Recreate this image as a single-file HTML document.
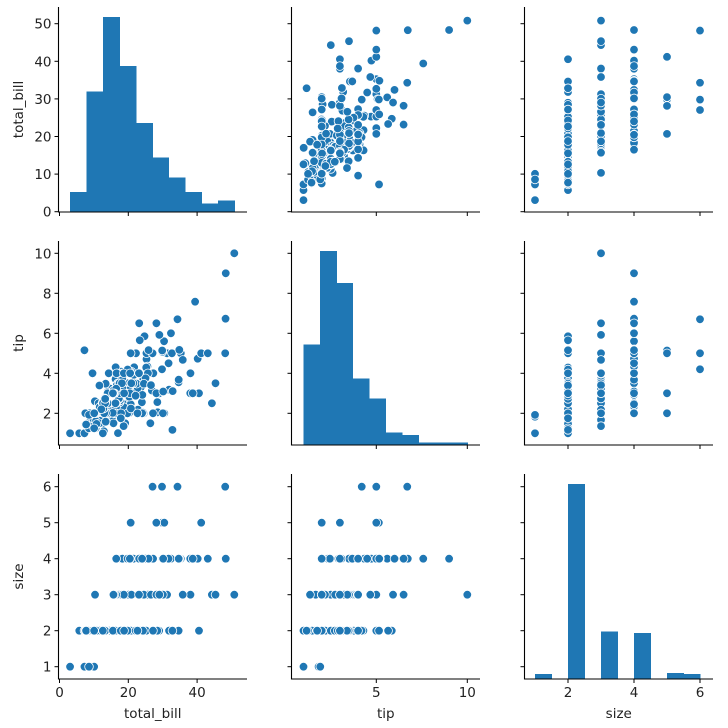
<!DOCTYPE html>
<html><head><meta charset="utf-8">
<style>
html,body{margin:0;padding:0;background:#fff;}
svg{display:block;font-family:"DejaVu Sans","Liberation Sans",sans-serif;}
</style></head>
<body>
<svg id="chart" width="728" height="728" viewBox="0 0 728 728" xmlns="http://www.w3.org/2000/svg"></svg>
<script>
const totalBill = [16.99,10.34,21.01,23.68,24.59,25.29,8.77,26.88,15.04,14.78,10.27,35.26,15.42,18.43,14.83,21.58,10.33,16.29,16.97,20.65,17.92,20.29,15.77,39.42,19.82,17.81,13.37,12.69,21.7,19.65,9.55,18.35,15.06,20.69,17.78,24.06,16.31,16.93,18.69,31.27,16.04,17.46,13.94,9.68,30.4,18.29,22.23,32.4,28.55,18.04,12.54,10.29,34.81,9.94,25.56,19.49,38.01,26.41,11.24,48.27,20.29,13.81,11.02,18.29,17.59,20.08,16.45,3.07,20.23,15.01,12.02,17.07,26.86,25.28,14.73,10.51,17.92,27.2,22.76,17.29,19.44,16.66,10.07,32.68,15.98,34.83,13.03,18.28,24.71,21.16,28.97,22.49,5.75,16.32,22.75,40.17,27.28,12.03,21.01,12.46,11.35,15.38,44.3,22.42,20.92,15.36,20.49,25.21,18.24,14.31,14.0,7.25,38.07,23.95,25.71,17.31,29.93,10.65,12.43,24.08,11.69,13.42,14.26,15.95,12.48,29.8,8.52,14.52,11.38,22.82,19.08,20.27,11.17,12.26,18.26,8.51,10.33,14.15,16.0,13.16,17.47,34.3,41.19,27.05,16.43,8.35,18.64,11.87,9.78,7.51,14.07,13.13,17.26,24.55,19.77,29.85,48.17,25.0,13.39,16.49,21.5,12.66,16.21,13.81,17.51,24.52,20.76,31.71,10.59,10.63,50.81,15.81,7.25,31.85,16.82,32.9,17.89,14.48,9.6,34.63,34.65,23.33,45.35,23.17,40.55,20.69,20.9,30.46,18.15,23.1,15.69,19.81,28.44,15.48,16.58,7.56,10.34,43.11,13.0,13.51,18.71,12.74,13.0,16.4,20.53,16.47,26.59,38.73,24.27,12.76,30.06,25.89,48.33,13.27,28.17,12.9,28.15,11.59,7.74,30.14,12.16,13.42,8.58,15.98,13.42,16.27,10.09,20.45,13.28,22.12,24.01,15.69,11.61,10.77,15.53,10.07,12.6,32.83,35.83,29.03,27.18,22.67,17.82,18.78];
const tip = [1.01,1.66,3.5,3.31,3.61,4.71,2.0,3.12,1.96,3.23,1.71,5.0,1.57,3.0,3.02,3.92,1.67,3.71,3.5,3.35,4.08,2.75,2.23,7.58,3.18,2.34,2.0,2.0,4.3,3.0,1.45,2.5,3.0,2.45,3.27,3.6,2.0,3.07,2.31,5.0,2.24,2.54,3.06,1.32,5.6,3.0,5.0,6.0,2.05,3.0,2.5,2.6,5.2,1.56,4.34,3.51,3.0,1.5,1.76,6.73,3.21,2.0,1.98,3.76,2.64,3.15,2.47,1.0,2.01,2.09,1.97,3.0,3.14,5.0,2.2,1.25,3.08,4.0,3.0,2.71,3.0,3.4,1.83,5.0,2.03,5.17,2.0,4.0,5.85,3.0,3.0,3.5,1.0,4.3,3.25,4.73,4.0,1.5,3.0,1.5,2.5,3.0,2.5,3.48,4.08,1.64,4.06,4.29,3.76,4.0,3.0,1.0,4.0,2.55,4.0,3.5,5.07,1.5,1.8,2.92,2.31,1.68,2.5,2.0,2.52,4.2,1.48,2.0,2.0,2.18,1.5,2.83,1.5,2.0,3.25,1.25,2.0,2.0,2.0,2.75,3.5,6.7,5.0,5.0,2.3,1.5,1.36,1.63,1.73,2.0,2.5,2.0,2.74,2.0,2.0,5.14,5.0,3.75,2.61,2.0,3.5,2.5,2.0,2.0,3.0,3.48,2.24,4.5,1.61,2.0,10.0,3.16,5.15,3.18,4.0,3.11,2.0,2.0,4.0,3.55,3.68,5.65,3.5,6.5,3.0,5.0,3.5,2.0,3.5,4.0,1.5,4.19,2.56,2.02,4.0,1.44,2.0,5.0,2.0,2.0,4.0,2.01,2.0,2.5,4.0,3.23,3.41,3.0,2.03,2.23,2.0,5.16,9.0,2.5,6.5,1.1,3.0,1.5,1.44,3.09,2.2,3.48,1.92,3.0,1.58,2.5,2.0,3.0,2.72,2.88,2.0,3.0,3.39,1.47,3.0,1.25,1.0,1.17,4.67,5.92,2.0,2.0,1.75,3.0];
const partySize = [2,3,3,2,4,4,2,4,2,2,2,4,2,4,2,2,3,3,3,3,2,2,2,4,2,4,2,2,2,2,2,4,2,4,2,3,3,3,3,3,3,2,2,2,4,2,2,4,3,2,2,2,4,2,4,2,4,2,2,4,2,2,2,4,3,3,2,1,2,2,2,3,2,2,2,2,2,4,2,2,2,2,1,2,2,4,2,2,2,2,2,2,2,2,2,4,2,2,2,2,2,2,3,2,2,2,2,2,2,2,2,1,3,2,3,2,4,2,2,4,2,2,2,2,2,6,2,2,2,3,2,2,2,2,2,2,2,2,2,2,2,6,5,6,2,2,3,2,2,2,2,2,3,4,4,5,6,4,2,4,4,2,3,2,2,3,2,4,2,2,3,2,2,2,2,2,2,2,2,2,4,2,3,4,2,5,3,5,3,3,2,2,2,2,2,2,2,4,2,2,3,2,2,2,4,3,3,4,2,2,3,4,4,2,3,2,5,2,2,4,2,2,1,3,2,2,2,4,2,2,4,3,2,2,2,2,2,2,3,3,2,2,2,2];
const varNames = ["total_bill","tip","size"];
const tbTicks = [0,10,20,30,40,50];
const tbXTicks = [0,20,40];
const tipYTicks = [2,4,6,8,10];
const tipXTicks = [5,10];
const sizeTicks = [1,2,3,4,5,6];
const sizeXTicks = [2,4,6];

const NS = "http://www.w3.org/2000/svg";
const svg = document.getElementById("chart");
const C = "#1f77b4";
const cols = [{l:58.5,r:247},{l:291.5,r:480},{l:524.5,r:713}];
const rows = [{t:7,b:212},{t:241,b:445},{t:474,b:679}];
const xFn = [v=>59.5+v*3.44, v=>376.3+(v-5)*18.2, v=>568+(v-2)*33];
const yFnRow = [
  v=>211.7-v*3.76,
  v=>413.3-(v-2)*20,
  v=>666.7-(v-1)*36
];
const datasets = [totalBill, tip, partySize];
const xTickSets = [tbXTicks, tipXTicks, sizeXTicks];
const yTickSets = [tbTicks, tipYTicks, sizeTicks];

function mk(tag, attrs, parent){
  const e = document.createElementNS(NS, tag);
  for (const k in attrs) e.setAttribute(k, attrs[k]);
  (parent||svg).appendChild(e);
  return e;
}
function histCounts(vals, nb){
  const mn = Math.min(...vals), mx = Math.max(...vals);
  const w = (mx-mn)/nb;
  const c = new Array(nb).fill(0);
  vals.forEach(v=>{ let i = Math.floor((v-mn)/w); if(i>=nb) i=nb-1; c[i]++; });
  return {c, mn, w};
}
const diagMaxPx = [195, 194, 195];

for (let r=0;r<3;r++){
  for (let c=0;c<3;c++){
    const g = mk("g", {});
    
    
    const X = xFn[c], Y = yFnRow[r];
    const R = rows[r], Co = cols[c];
    if (r===c){
      const h = histCounts(datasets[c], 10);
      const mxc = Math.max(...h.c);
      h.c.forEach((cnt,i)=>{
        if(!cnt) return;
        const x0 = X(h.mn+i*h.w), x1 = X(h.mn+(i+1)*h.w);
        const hp = cnt/mxc*diagMaxPx[r];
        const b = mk("rect",{x:x0,y:R.b-hp,width:x1-x0+0.6,height:hp,fill:C,"shape-rendering":"crispEdges"},g);
        
        
      });
    } else {
      const xs = datasets[c], ys = datasets[r];
      for (let i=0;i<xs.length;i++){
        const p = mk("circle",{cx:X(xs[i]),cy:Y(ys[i]),r:4.3,fill:C,stroke:"#fff","stroke-width":0.8},g);
        
        
      }
    }
    const sp = mk("path",{d:`M${Co.l} ${R.t} L${Co.l} ${R.b} L${Co.r} ${R.b}`,fill:"none",stroke:"#000","stroke-width":1.1},g);
    
    
    xTickSets[c].forEach(t=>{
      const x = X(t);
      mk("line",{x1:x,x2:x,y1:R.b,y2:R.b+4,stroke:"#000","stroke-width":1},g);
      if (r===2){
        const tx = mk("text",{x:x,y:R.b+18,"text-anchor":"middle","font-size":13.5,fill:"#222"},g);
        tx.textContent = t;
        
        
      }
    });
    yTickSets[r].forEach(t=>{
      const y = Y(t);
      mk("line",{x1:Co.l-4,x2:Co.l,y1:y,y2:y,stroke:"#000","stroke-width":1},g);
      if (c===0){
        const tx = mk("text",{x:Co.l-7,y:y+5,"text-anchor":"end","font-size":13.5,fill:"#222"},g);
        tx.textContent = t;
        
        
      }
    });
  }
}
[0,1,2].forEach(c=>{
  const cx = (cols[c].l+cols[c].r)/2;
  const t = mk("text",{x:cx,y:718,"text-anchor":"middle","font-size":13.5,fill:"#222"});
  t.textContent = varNames[c];
  
  
});
[0,1,2].forEach(r=>{
  const cy = (rows[r].t+rows[r].b)/2;
  const t = mk("text",{x:0,y:0,"text-anchor":"middle","font-size":13.5,fill:"#222",transform:`translate(23 ${cy}) rotate(-90)`});
  t.textContent = varNames[r];
  
  
});
</script>
</body></html>
